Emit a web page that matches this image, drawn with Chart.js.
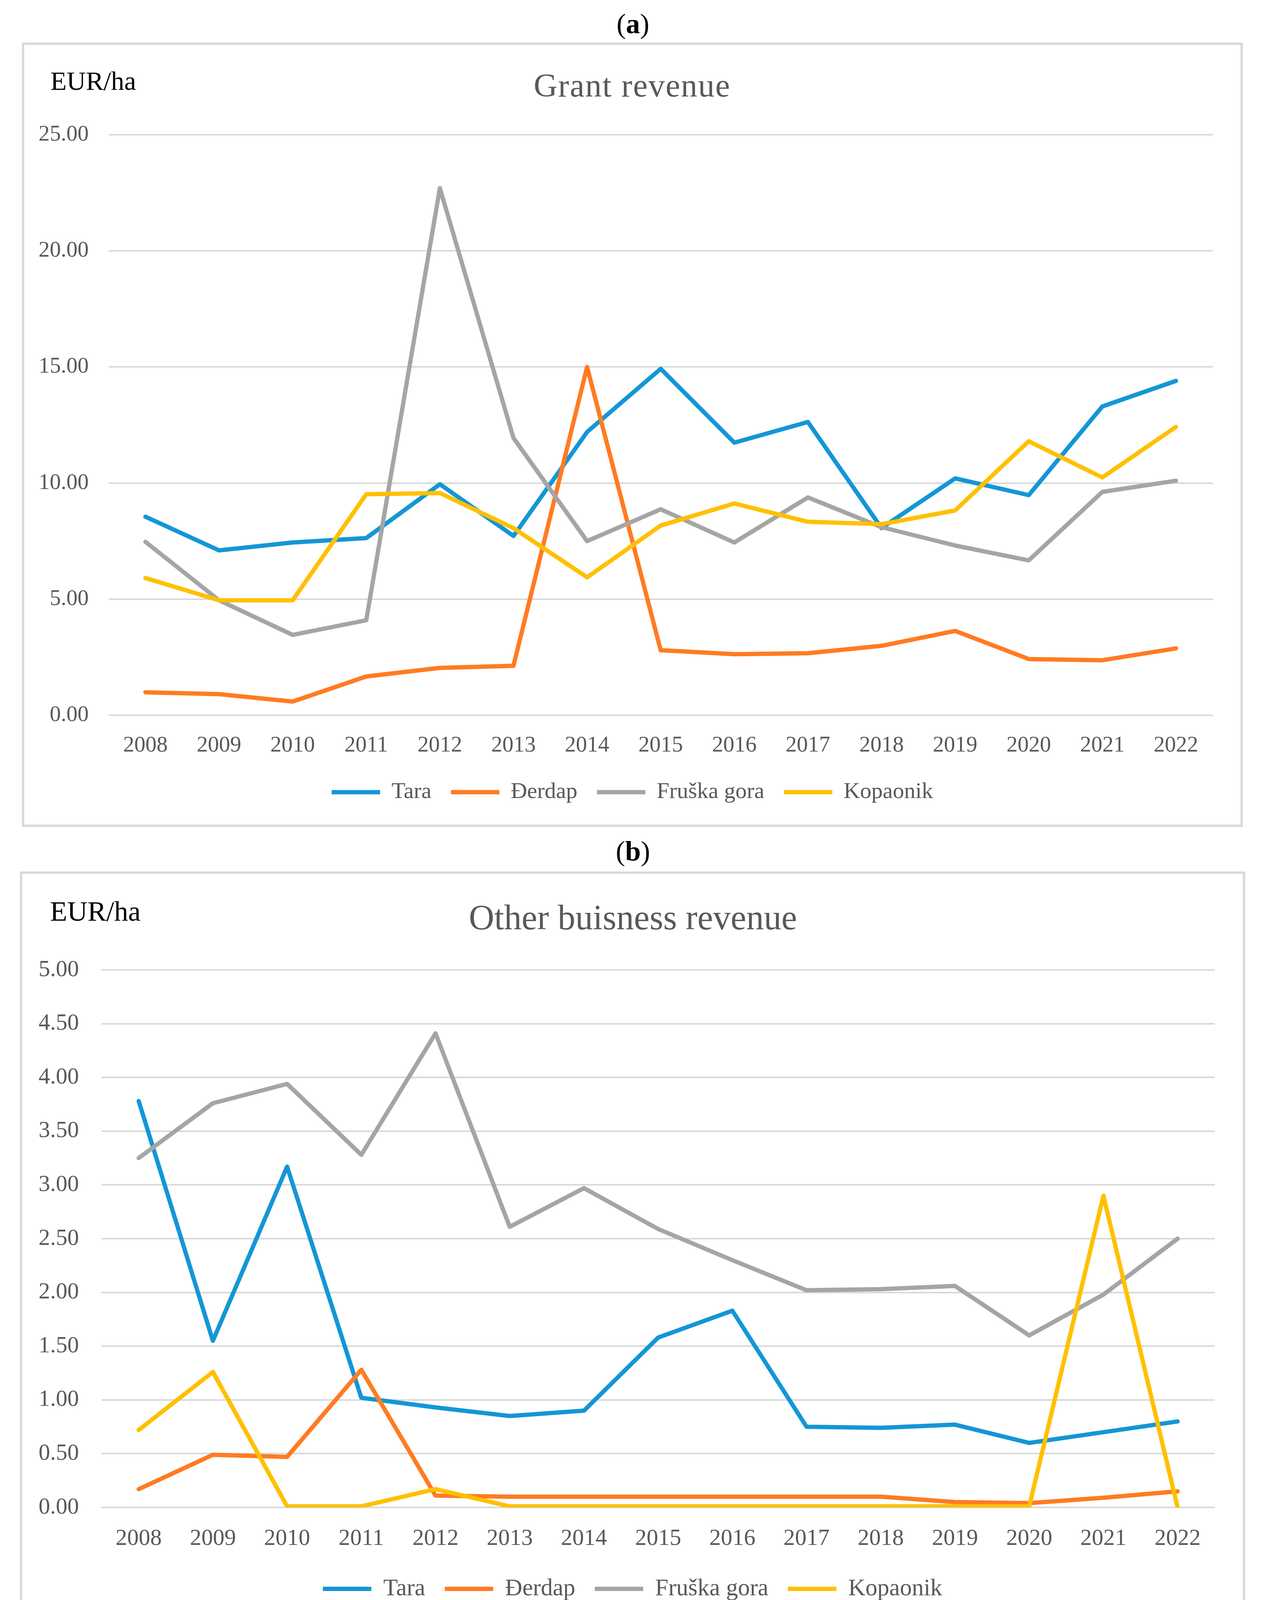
<!DOCTYPE html>
<html>
<head>
<meta charset="utf-8">
<script src="https://cdn.jsdelivr.net/npm/chart.js@4.4.1/dist/chart.umd.min.js"></script>
<style>
body { margin: 0; width: 3230px; height: 4204px; background: #fff; position: relative; font-family: "Liberation Serif", serif; }
.panel { position: absolute; border: 6px solid #d9d9d9; box-sizing: border-box; }
.panel canvas { position: absolute; left: 0; top: 0; }
.lbl { position: absolute; line-height: 1; white-space: nowrap; }
.title { color: #595959; text-align: center; width: 2000px; }
</style>
</head>
<body>

<div class="lbl" style="left:1120px; width:1000px; text-align:center; top:25px; font-size:72px;">(<b>a</b>)</div>
<div class="panel" style="left:56px; top:109px; width:3125px; height:2008px;">
  <canvas id="grant-revenue" width="3113" height="1996"></canvas>
</div>
<div class="lbl" style="left:129px; top:173px; font-size:68px;">EUR/ha</div>
<div class="lbl title" style="left:618px; top:177px; font-size:84px; letter-spacing:2px;">Grant revenue</div>

<div class="lbl" style="left:1120px; width:1000px; text-align:center; top:2143px; font-size:72px;">(<b>b</b>)</div>
<div class="panel" style="left:51px; top:2231px; width:3136px; height:1929px;">
  <canvas id="other-business-revenue" width="3124" height="1917"></canvas>
</div>
<div class="lbl" style="left:128px; top:2297px; font-size:72px;">EUR/ha</div>
<div class="lbl title" style="left:620px; top:2304px; font-size:90px;">Other buisness revenue</div>

<script>
// categories
const years = ['2008', '2009', '2010', '2011', '2012', '2013', '2014', '2015', '2016', '2017', '2018', '2019', '2020', '2021', '2022'];
const parkNames = ['Tara', 'Đerdap', 'Fruška gora', 'Kopaonik'];

// (a) grant revenue, EUR/ha
const grantTara = [8.55, 7.10, 7.44, 7.63, 9.95, 7.72, 12.2, 14.92, 11.74, 12.63, 8.06, 10.2, 9.48, 13.3, 14.4];
const grantDerdap = [0.99, 0.91, 0.59, 1.67, 2.04, 2.13, 15.0, 2.8, 2.63, 2.67, 2.99, 3.63, 2.42, 2.37, 2.88];
const grantFruska = [7.47, 4.95, 3.46, 4.09, 22.7, 11.94, 7.5, 8.87, 7.44, 9.38, 8.1, 7.31, 6.67, 9.62, 10.1];
const grantKopaonik = [5.91, 4.95, 4.95, 9.52, 9.57, 8.06, 5.94, 8.17, 9.12, 8.33, 8.23, 8.82, 11.8, 10.24, 12.42];

// (b) other business revenue, EUR/ha
const otherTara = [3.78, 1.55, 3.17, 1.02, 0.93, 0.85, 0.9, 1.58, 1.83, 0.75, 0.74, 0.77, 0.6, 0.7, 0.8];
const otherDerdap = [0.17, 0.49, 0.47, 1.28, 0.11, 0.1, 0.1, 0.1, 0.1, 0.1, 0.1, 0.05, 0.04, 0.09, 0.15];
const otherFruska = [3.25, 3.76, 3.94, 3.28, 4.41, 2.61, 2.97, 2.59, 2.3, 2.02, 2.03, 2.06, 1.6, 1.98, 2.5];
const otherKopaonik = [0.72, 1.26, 0.01, 0.01, 0.17, 0.01, 0.01, 0.01, 0.01, 0.01, 0.01, 0.01, 0.01, 2.9, 0];

const lineColors = ['#1496d6', '#ff7b22', '#a5a5a5', '#ffc000'];
const textGrey = '#595959';
const fontFamily = 'Liberation Serif';

function createRevenueChart(selector, series, box) {
    const canvas = document.querySelector(selector);
    const data = {
        labels: years,
        datasets: parkNames.map((name, i) => ({
            label: name,
            data: series[i],
            borderColor: lineColors[i],
            backgroundColor: lineColors[i],
            borderWidth: 11,
            borderCapStyle: 'round',
            borderJoinStyle: 'round',
            pointRadius: 0,
            tension: 0,
            order: parkNames.length - i   // later series drawn on top, like Excel
        }))
    };
    const config = {
        type: 'line',
        data,
        options: {
            responsive: false,
            animation: false,
            devicePixelRatio: 1,
            layout: {
                padding: { left: 0, right: 0, top: box.top, bottom: box.padBottom }
            },
            plugins: {
                title: { display: false },
                tooltip: { enabled: false },
                legend: {
                    position: 'bottom',
                    labels: {
                        usePointStyle: true,
                        pointStyle: 'line',
                        pointStyleWidth: 124,
                        boxHeight: box.legendFont,
                        padding: 50,
                        color: textGrey,
                        font: { family: fontFamily, size: box.legendFont },
                        sort: (a, b) => a.datasetIndex - b.datasetIndex
                    }
                }
            },
            scales: {
                x: {
                    offset: true,
                    grid: { display: false },
                    border: { display: false },
                    ticks: {
                        color: textGrey,
                        font: { family: fontFamily, size: box.tickFont },
                        padding: box.xPad,
                        autoSkip: false,
                        maxRotation: 0
                    },
                    afterFit: scale => {
                        scale.height = canvas.height - box.bottom - scale.chart.legend.height - box.padBottom;
                    }
                },
                y: {
                    min: 0,
                    max: box.max,
                    grid: { color: '#d9d9d9', lineWidth: 4, drawTicks: false },
                    border: { display: false },
                    ticks: {
                        stepSize: box.step,
                        color: textGrey,
                        font: { family: fontFamily, size: box.tickFont },
                        padding: box.yPad,
                        callback: v => Number(v).toFixed(2)
                    },
                    afterFit: scale => {
                        scale.width = box.left;
                    }
                },
                // empty spacer on the right so the plot and legend stay centred
                spacer: {
                    type: 'linear',
                    position: 'right',
                    grid: { display: false },
                    border: { display: false },
                    ticks: { display: false },
                    afterFit: scale => {
                        scale.width = box.side;
                    }
                }
            }
        }
    };
    return new Chart(canvas, config);
}

createRevenueChart('#grant-revenue',
    [grantTara, grantDerdap, grantFruska, grantKopaonik],
    { left: 216, side: 71, top: 230, bottom: 1716, padBottom: 44, max: 25, step: 5,
      tickFont: 57, legendFont: 58, xPad: 36, yPad: 51 });

createRevenueChart('#other-business-revenue',
    [otherTara, otherDerdap, otherFruska, otherKopaonik],
    { left: 203, side: 72, top: 246, bottom: 1622, padBottom: 46, max: 5, step: 0.5,
      tickFont: 59, legendFont: 61, xPad: 37, yPad: 58 });
</script>
</body>
</html>
